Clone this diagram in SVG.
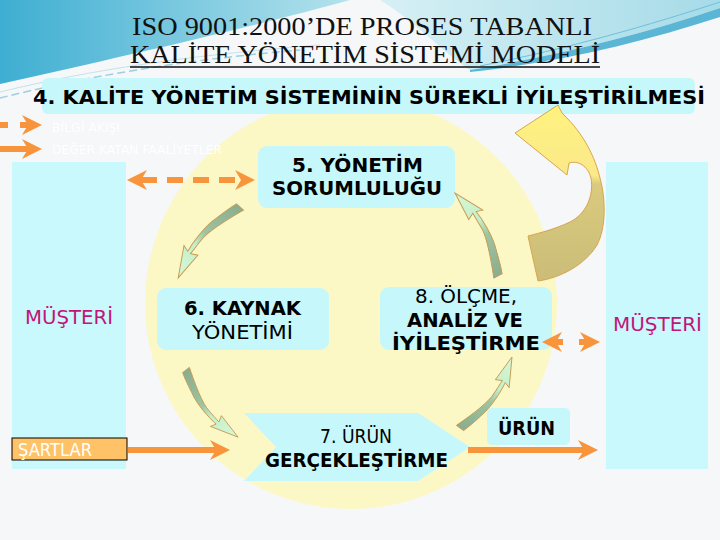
<svg xmlns="http://www.w3.org/2000/svg" width="720" height="540" viewBox="0 0 720 540">
<defs>
<style>
.box{fill:#c6f7fb}
.col{fill:#c9f9fc}
.b{font-family:"DejaVu Sans",Verdana,sans-serif;font-weight:bold;font-size:20px;fill:#000}
.n{font-family:"DejaVu Sans",Verdana,sans-serif;font-size:20px;fill:#000}
.mus{font-family:"DejaVu Sans",Verdana,sans-serif;font-size:20px;fill:#c0157a}
.ttl{font-family:"Liberation Serif","Times New Roman",serif;font-size:25px;fill:#111}
.leg{font-family:"DejaVu Sans",sans-serif;font-size:12px;fill:#ffffff}
.arr{stroke:#f7943c;stroke-width:6;fill:none}
.leaf{fill:url(#lg);stroke:#c49a55;stroke-width:1}
</style>
<linearGradient id="lg" x1="0" y1="0" x2="1" y2="0">
<stop offset="0" stop-color="#89ad8e"/>
<stop offset="0.45" stop-color="#9fc4a2"/>
<stop offset="0.62" stop-color="#c6efc8"/>
<stop offset="1" stop-color="#d6f8d6"/>
</linearGradient>
<linearGradient id="big" gradientUnits="userSpaceOnUse" x1="0" y1="105" x2="0" y2="281">
<stop offset="0" stop-color="#fff27e"/>
<stop offset="0.4" stop-color="#fbe98a"/>
<stop offset="0.45" stop-color="#d9ca7d"/>
<stop offset="1" stop-color="#cbbd78"/>
</linearGradient>
<linearGradient id="sky" x1="0" y1="0" x2="1" y2="0">
<stop offset="0" stop-color="#3eaed2"/>
<stop offset="1" stop-color="#b4e2ec"/>
</linearGradient>
<linearGradient id="sky2" x1="0" y1="0" x2="1" y2="0">
<stop offset="0" stop-color="#d6f0f5"/>
<stop offset="1" stop-color="#a6dbe8"/>
</linearGradient>
<marker id="ah" markerUnits="userSpaceOnUse" markerWidth="22" markerHeight="22" viewBox="0 -11 22 22" refX="6" refY="0" orient="auto-start-reverse">
<path d="M0,-10 L20,0 L0,10 L6,0 Z" fill="#f7943c"/>
</marker>
<path id="leaf" class="leaf" d="M0,-5 C15,0 35,7 50,8 C60,8 67,7 72,7 L68,0 L100,0 L70,18 L72,11 C62,13 40,15 25,11 C15,9 6,7 0,5 Z"/>
</defs>

<g id="background">
<rect width="720" height="540" fill="#f5f7f9"/>
<path d="M0,0 H350 C260,25 130,55 0,84 Z" fill="url(#sky)"/>
<path d="M380,0 H720 V8 C640,35 560,55 470,70 C440,50 420,25 380,0 Z" fill="url(#sky2)"/>
<path d="M470,70 C560,55 640,35 720,8 L720,17 C640,43 560,62 470,72 Z" fill="#5bb6d6"/>
<path d="M480,66 C570,48 650,25 720,2" stroke="#6fc0dc" stroke-width="1" fill="none"/>
<path d="M0,98 C80,78 180,60 300,50" stroke="#9ccfe0" stroke-width="1.5" stroke-dasharray="8 4" fill="none"/>
<path d="M0,92 C90,70 190,55 320,45" stroke="#c3e3ec" stroke-width="1" fill="none"/>
</g>

<g id="title">
<text class="ttl" x="132" y="35" textLength="460" lengthAdjust="spacingAndGlyphs">ISO 9001:2000’DE PROSES TABANLI</text>
<text class="ttl" x="130" y="63" textLength="470" lengthAdjust="spacingAndGlyphs">KALİTE YÖNETİM SİSTEMİ MODELİ</text>
<line x1="130" y1="67" x2="600" y2="67" stroke="#111" stroke-width="1.5"/>
</g>

<g id="cycle-circle">
<circle cx="351" cy="303" r="206" fill="#fcf8c6"/>
</g>

<g id="n4-banner">
<rect class="box" x="42" y="78" width="653" height="36" rx="6"/>
<text class="b" x="33" y="104" textLength="672" lengthAdjust="spacingAndGlyphs">4. KALİTE YÖNETİM SİSTEMİNİN SÜREKLİ İYİLEŞTİRİLMESİ</text>
</g>

<g id="legend">
<text class="leg" x="52" y="132" textLength="68" lengthAdjust="spacingAndGlyphs">BİLGİ AKIŞI</text>
<text class="leg" x="52" y="154" textLength="170" lengthAdjust="spacingAndGlyphs">DEĞER KATAN FAALİYETLER</text>
</g>

<g id="musteri-left">
<rect class="col" x="12" y="162" width="114" height="307"/>
<text class="mus" x="25" y="324" textLength="88" lengthAdjust="spacingAndGlyphs">MÜŞTERİ</text>
</g>

<g id="sartlar">
<rect x="12" y="438" width="115" height="22" fill="#ffc266" stroke="#000" stroke-width="1"/>
<text x="18" y="456" font-family="DejaVu Sans, sans-serif" font-size="17" fill="#fff" textLength="74" lengthAdjust="spacingAndGlyphs">ŞARTLAR</text>
</g>

<g id="musteri-right">
<rect class="col" x="606" y="162" width="102" height="307"/>
<text class="mus" x="613" y="331" textLength="89" lengthAdjust="spacingAndGlyphs">MÜŞTERİ</text>
</g>

<g id="n5">
<rect class="box" x="258" y="146" width="197" height="62" rx="9"/>
<text class="b" x="292" y="172" textLength="131" lengthAdjust="spacingAndGlyphs">5. YÖNETİM</text>
<text class="b" x="272" y="195" textLength="170" lengthAdjust="spacingAndGlyphs">SORUMLULUĞU</text>
</g>

<g id="n6">
<rect class="box" x="157" y="288" width="172" height="62" rx="9"/>
<text class="b" x="184" y="315" textLength="117" lengthAdjust="spacingAndGlyphs">6. KAYNAK</text>
<text class="n" x="192" y="339" textLength="101" lengthAdjust="spacingAndGlyphs">YÖNETİMİ</text>
</g>

<g id="n8">
<rect class="box" x="380" y="287" width="172" height="63" rx="9"/>
<text class="n" x="415" y="303" textLength="102" lengthAdjust="spacingAndGlyphs">8. ÖLÇME,</text>
<text class="b" x="407" y="327" textLength="116" lengthAdjust="spacingAndGlyphs">ANALİZ VE</text>
<text class="b" x="392" y="350" textLength="148" lengthAdjust="spacingAndGlyphs">İYİLEŞTİRME</text>
</g>

<g id="n7">
<polygon class="box" points="244,413 418,413 470,447 418,481 244,481 276,447"/>
<text class="n" x="320" y="443" textLength="72" lengthAdjust="spacingAndGlyphs">7. ÜRÜN</text>
<text class="b" x="265" y="467" textLength="183" lengthAdjust="spacingAndGlyphs">GERÇEKLEŞTİRME</text>
</g>

<g id="urun">
<rect class="box" x="487" y="408" width="83" height="37" rx="5"/>
<text class="b" x="498" y="435" font-size="17" textLength="57" lengthAdjust="spacingAndGlyphs">ÜRÜN</text>
</g>

<g id="connectors">
<line class="arr" x1="0" y1="125" x2="28" y2="125" stroke-dasharray="8 12" marker-end="url(#ah)"/>
<line class="arr" x1="0" y1="149" x2="28" y2="149" marker-end="url(#ah)"/>
<line class="arr" x1="141" y1="180" x2="241" y2="180" stroke-dasharray="16 10" marker-start="url(#ah)" marker-end="url(#ah)"/>
<line class="arr" x1="128" y1="450" x2="216" y2="450" marker-end="url(#ah)"/>
<line class="arr" x1="468" y1="450" x2="584" y2="450" marker-end="url(#ah)"/>
<line class="arr" x1="556" y1="342" x2="586" y2="342" stroke-dasharray="7 16" marker-start="url(#ah)" marker-end="url(#ah)"/>
<use href="#leaf" transform="translate(240,207) rotate(131.1) scale(0.94)"/>
<use href="#leaf" transform="translate(186,370) rotate(52.2) scale(0.85)"/>
<use href="#leaf" transform="translate(460,428) rotate(-53.8) scale(0.88)"/>
<use href="#leaf" transform="translate(498,276) rotate(-117.4) scale(0.935)"/>
<path d="M558,105 L515,133 L567,175 L569,163 C578,160 588,166 591,178 C594,196 586,214 570,222 C555,229 540,233 528,236 L538,281 C560,278 585,265 597,245 C606,228 606,200 600,178 C595,158 585,135 562,113 Z" fill="url(#big)" stroke="#d9a54a" stroke-width="1"/>
</g>
</svg>
